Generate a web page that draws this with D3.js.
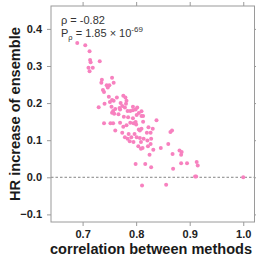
<!DOCTYPE html>
<html>
<head>
<meta charset="utf-8">
<script src="https://cdn.jsdelivr.net/npm/d3@7"></script>
<style>
  body { margin: 0; background: #fff; }
  svg { display: block; font-family: "Liberation Sans", Arial, sans-serif; }
</style>
</head>
<body>
<div id="chart"></div>
<script>
// correlation between methods (x) vs HR increase of ensemble (y)
var corrValues = [
  0.690, 0.705, 0.713, 0.714, 0.715, 0.732, 0.711, 0.719, 0.713, 0.736,
  0.735, 0.755, 0.745, 0.750, 0.758, 0.738, 0.740, 0.749, 0.764, 0.758,
  0.751, 0.741, 0.730, 0.754, 0.757, 0.759, 0.761, 0.767, 0.740, 0.752,
  0.757, 0.761, 0.771, 0.776, 0.780, 0.782, 0.781, 0.770, 0.779, 0.784,
  0.789, 0.794, 0.794, 0.799, 0.802, 0.805, 0.810, 0.801, 0.794, 0.785,
  0.777, 0.770, 0.776, 0.782, 0.789, 0.795, 0.799, 0.800, 0.805, 0.807,
  0.810, 0.813, 0.838, 0.774, 0.779, 0.784, 0.786, 0.788, 0.791, 0.795,
  0.797, 0.801, 0.807, 0.809, 0.812, 0.820, 0.827, 0.831, 0.821, 0.828,
  0.822, 0.827, 0.832, 0.825, 0.846, 0.860, 0.864, 0.867, 0.868, 0.869,
  0.799, 0.817, 0.828, 0.811, 0.856, 0.881, 0.885, 0.884, 0.884, 0.895,
  0.913, 0.915, 0.910, 0.912, 1.000, 0.747, 0.755, 0.755, 0.769, 0.774,
  0.813, 0.810, 0.823, 0.814, 0.809, 0.804
];
var hrIncrease = [
  0.362, 0.356, 0.340, 0.316, 0.310, 0.313, 0.295, 0.295, 0.286, 0.263,
  0.255, 0.268, 0.248, 0.248, 0.255, 0.235, 0.230, 0.217, 0.215, 0.206,
  0.203, 0.198, 0.189, 0.190, 0.179, 0.171, 0.184, 0.170, 0.146, 0.146,
  0.146, 0.126, 0.200, 0.220, 0.215, 0.206, 0.198, 0.183, 0.188, 0.179,
  0.179, 0.181, 0.190, 0.183, 0.188, 0.173, 0.165, 0.168, 0.159, 0.162,
  0.163, 0.147, 0.136, 0.140, 0.147, 0.146, 0.149, 0.142, 0.129, 0.126,
  0.131, 0.150, 0.154, 0.120, 0.108, 0.104, 0.117, 0.097, 0.108, 0.095,
  0.117, 0.108, 0.106, 0.077, 0.079, 0.120, 0.120, 0.131, 0.099, 0.104,
  0.084, 0.090, 0.074, 0.061, 0.079, 0.090, 0.122, 0.126, 0.063, 0.023,
  0.036, 0.036, 0.027, -0.022, -0.020, 0.072, 0.068, 0.061, 0.038, 0.038,
  0.041, 0.032, 0.002, 0.002, 0.000, 0.242, 0.208, 0.174, 0.187, 0.192,
  0.165, 0.178, 0.135, 0.104, 0.095, 0.084
];
var xTicks = [0.7, 0.8, 0.9, 1.0];
var yTicks = [-0.1, 0.0, 0.1, 0.2, 0.3, 0.4];
var rhoText = "ρ = -0.82";
var pMantissa = "1.85";
var pExponent = "-69";

var points = corrValues.map(function(d, i) { return {x: d, y: hrIncrease[i]}; });

var W = 256, H = 257;
var box = {left: 51, right: 254.5, top: 6, bottom: 222};

var svg = d3.select("#chart").append("svg")
    .attr("width", W)
    .attr("height", H);

var x = d3.scaleLinear().domain([0.641, 1.021]).range([box.left, box.right]);
var y = d3.scaleLinear().domain([-0.1205, 0.4617]).range([box.bottom, box.top]);

var axisColor = "#9a9a9a";

// dashed zero line
svg.append("line")
    .attr("x1", box.left).attr("x2", box.right)
    .attr("y1", y(0)).attr("y2", y(0))
    .attr("stroke", "#666")
    .attr("stroke-width", 0.8)
    .attr("stroke-dasharray", "2.5,2");

// points
svg.append("g").selectAll("circle")
    .data(points)
    .enter()
    .append("circle")
    .attr("cx", function(d) { return x(d.x); })
    .attr("cy", function(d) { return y(d.y); })
    .attr("r", 2)
    .attr("fill", "#F781BF");

function styleAxis(g, showLabels) {
    g.select(".domain").remove();
    g.selectAll(".tick line").attr("stroke", axisColor);
    if (!showLabels) g.selectAll(".tick text").remove();
    else g.selectAll(".tick text")
        .attr("fill", "#222")
        .style("font-size", "11px")
        .style("font-weight", "bold");
}

svg.append("g")
    .attr("transform", "translate(0," + box.bottom + ")")
    .call(d3.axisBottom(x).tickValues(xTicks).tickFormat(d3.format(".1f")).tickSize(4).tickPadding(4))
    .call(styleAxis, true);

svg.append("g")
    .attr("transform", "translate(0," + box.top + ")")
    .call(d3.axisTop(x).tickValues(xTicks).tickSize(4))
    .call(styleAxis, false);

svg.append("g")
    .attr("transform", "translate(" + box.left + ",0)")
    .call(d3.axisLeft(y).tickValues(yTicks).tickFormat(d3.format(".1f")).tickSize(4).tickPadding(5))
    .call(styleAxis, true);

svg.append("g")
    .attr("transform", "translate(" + box.right + ",0)")
    .call(d3.axisRight(y).tickValues(yTicks).tickSize(4))
    .call(styleAxis, false);

// frame
svg.append("rect")
    .attr("x", box.left).attr("y", box.top)
    .attr("width", box.right - box.left)
    .attr("height", box.bottom - box.top)
    .attr("fill", "none")
    .attr("stroke", axisColor)
    .attr("stroke-width", 1);

// stats text
var stats = svg.append("g").attr("fill", "#333").style("font-size", "11px");
stats.append("text").attr("x", 61).attr("y", 24).text(rhoText);
var p = stats.append("text").attr("x", 61).attr("y", 37);
p.append("tspan").text("P");
p.append("tspan").attr("dy", 3).style("font-size", "7.5px").text("ρ");
p.append("tspan").attr("dy", -3).text(" = " + pMantissa + " × 10");
p.append("tspan").attr("dy", -5).style("font-size", "8px").text(pExponent);

// axis titles
svg.append("text")
    .attr("x", 151)
    .attr("y", 254)
    .attr("text-anchor", "middle")
    .attr("fill", "#1a1a1a")
    .attr("textLength", 202)
    .attr("lengthAdjust", "spacingAndGlyphs")
    .style("font-size", "14.5px")
    .style("font-weight", "bold")
    .text("correlation between methods");

svg.append("text")
    .attr("transform", "translate(20,114) rotate(-90)")
    .attr("text-anchor", "middle")
    .attr("fill", "#1a1a1a")
    .attr("textLength", 174)
    .attr("lengthAdjust", "spacingAndGlyphs")
    .style("font-size", "14.5px")
    .style("font-weight", "bold")
    .text("HR increase of ensemble");
</script>
</body>
</html>
